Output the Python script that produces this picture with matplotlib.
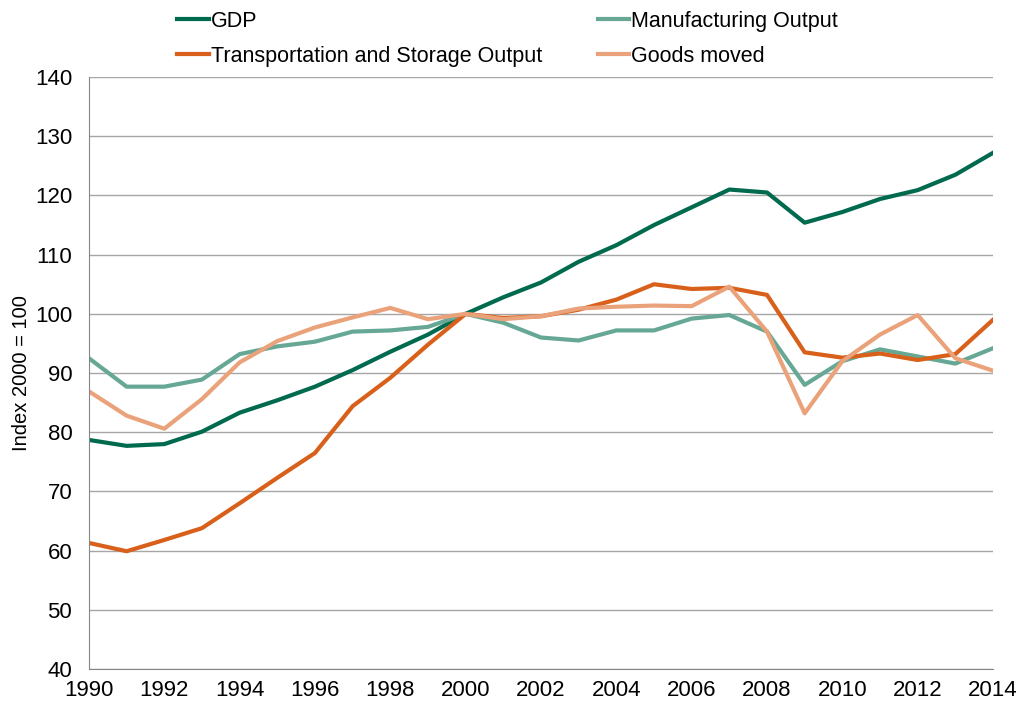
import matplotlib.pyplot as plt

plt.rcParams['font.family'] = ['Liberation Sans', 'DejaVu Sans']

years = list(range(1990, 2015))

gdp = [78.7, 77.7, 78.0, 80.1, 83.3, 85.4, 87.7, 90.5, 93.6, 96.5, 100.0,
       102.8, 105.3, 108.8, 111.6, 115.0, 118.0, 121.0, 120.5, 115.4, 117.2,
       119.4, 120.9, 123.5, 127.2]
manufacturing = [92.5, 87.7, 87.7, 88.9, 93.2, 94.5, 95.3, 97.0, 97.2, 97.8, 100.0,
                 98.5, 96.0, 95.5, 97.2, 97.2, 99.2, 99.8, 97.0, 88.0, 92.0,
                 94.0, 92.8, 91.6, 94.2]
transport = [61.3, 59.9, 61.8, 63.8, 68.0, 72.3, 76.5, 84.4, 89.2, 94.8, 100.0,
             99.3, 99.6, 100.7, 102.4, 105.0, 104.2, 104.4, 103.2, 93.5, 92.6,
             93.3, 92.2, 93.2, 99.0]
goods_moved = [86.9, 82.8, 80.6, 85.6, 91.8, 95.4, 97.7, 99.4, 101.0, 99.1, 100.0,
               99.1, 99.6, 100.9, 101.2, 101.4, 101.3, 104.6, 97.0, 83.2, 92.0,
               96.5, 99.8, 92.5, 90.4]

fig = plt.figure(figsize=(10.19, 7.07), dpi=100)
ax = fig.add_axes([0.0873, 0.0537, 0.8872, 0.8373])

lw = 3
ax.plot(years, gdp, color='#006a4e', lw=lw, label='GDP')
ax.plot(years, manufacturing, color='#66a895', lw=lw, label='Manufacturing Output')
ax.plot(years, transport, color='#d8601a', lw=lw, label='Transportation and Storage Output')
ax.plot(years, goods_moved, color='#eaa27a', lw=lw, label='Goods moved')

ax.set_xlim(1990, 2014)
ax.set_ylim(40, 140)
ax.set_xticks(range(1990, 2015, 2))
ax.set_yticks(range(40, 141, 10))
ax.tick_params(length=0, labelsize=16)
ax.tick_params(axis='y', pad=12)
ax.tick_params(axis='x', pad=8)
ax.yaxis.grid(True, color='#a6a6a6', lw=1)
ax.set_axisbelow(True)
for s in ['top', 'right']:
    ax.spines[s].set_visible(False)
for s in ['left', 'bottom']:
    ax.spines[s].set_color('#868686')
ax.set_ylabel('Index 2000 = 100', fontsize=14.5, labelpad=3)

# legend order: row 1 GDP / Manufacturing, row 2 Transport / Goods moved
h, l = ax.get_legend_handles_labels()
order = [0, 2, 1, 3]
fig.legend([h[i] for i in order], [l[i] for i in order], ncol=2, frameon=False,
           loc='upper left', bbox_to_anchor=(0.155, 1.012), fontsize=15.5,
           handlelength=1.45, handletextpad=0.1, columnspacing=2.6, labelspacing=0.65)

fig.savefig('out.png', dpi=100)
